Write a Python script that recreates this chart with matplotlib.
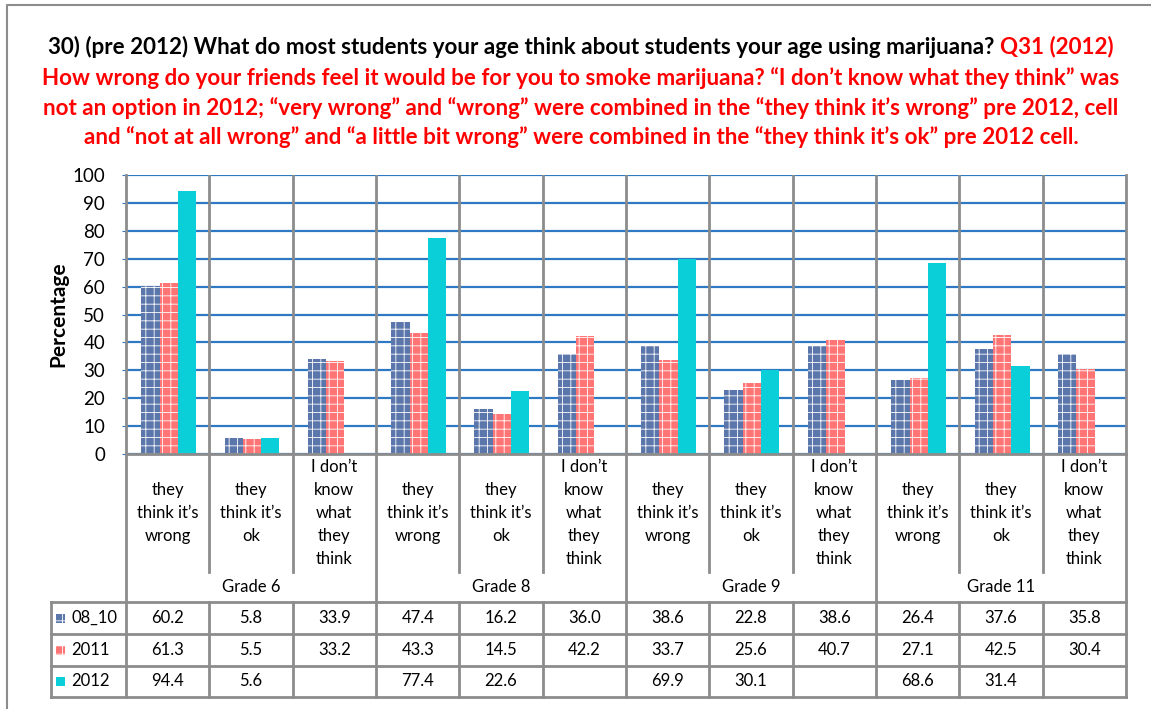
import matplotlib
matplotlib.use("Agg")
import matplotlib.pyplot as plt
from matplotlib.patches import Rectangle
from matplotlib.lines import Line2D
from matplotlib.transforms import blended_transform_factory

plt.rcParams['font.family'] = ['Lato', 'DejaVu Sans']
plt.rcParams['hatch.linewidth'] = 0.6

# data
grades = ["Grade 6", "Grade 8", "Grade 9", "Grade 11"]
responses = ["they\nthink it’s\nwrong", "they\nthink it’s\nok", "I don’t\nknow\nwhat\nthey\nthink"]
series_names = ["08_10", "2011", "2012"]
vals_08_10 = [60.2, 5.8, 33.9, 47.4, 16.2, 36.0, 38.6, 22.8, 38.6, 26.4, 37.6, 35.8]
vals_2011 = [61.3, 5.5, 33.2, 43.3, 14.5, 42.2, 33.7, 25.6, 40.7, 27.1, 42.5, 30.4]
vals_2012 = [94.4, 5.6, None, 77.4, 22.6, None, 69.9, 30.1, None, 68.6, 31.4, None]

series_vals = [vals_08_10, vals_2011, vals_2012]
face_colors = ["#5A76AA", "#FF7575", "#0ACFD8"]
hatches = ["++", "++", None]

W, H = 1151, 709
fig = plt.figure(figsize=(W / 100, H / 100), dpi=100)

def fy(y):
    return 1 - y / H

def fx(x):
    return x / W

GRAY = "#8C8C8C"
ax = fig.add_axes([fx(126), fy(454), fx(1126) - fx(126), fy(175) - fy(454)])
n = len(vals_08_10)
ax.set_xlim(0, n)
ax.set_ylim(0, 100)
ax.set_yticks(range(0, 101, 10))
ax.set_xticks([])
ax.tick_params(axis='y', length=3, color="#2F78C4", labelsize=13.5, pad=12)
ax.yaxis.grid(True, color="#2F78C4", linewidth=1.6, zorder=0)
ax.set_axisbelow(True)
ax.spines["top"].set_visible(False)
for s in ["left", "right", "bottom"]:
    ax.spines[s].set_color(GRAY)
    ax.spines[s].set_linewidth(2)
for i in range(1, n):
    ax.axvline(i, color=GRAY, linewidth=2, zorder=1)
ax.set_ylabel("Percentage", fontsize=15, fontweight="bold", labelpad=3)

bw = 0.22
for k, vals in enumerate(series_vals):
    xs = [i + 0.5 + (k - 1) * bw + 0.012 for i, v in enumerate(vals) if v is not None]
    ys = [v for v in vals if v is not None]
    ax.bar(xs, ys, width=bw, color=face_colors[k], edgecolor="white" if hatches[k] else face_colors[k],
           hatch=hatches[k], linewidth=0, zorder=2)

tr = blended_transform_factory(ax.transData, fig.transFigure)
fs = 12

# category labels
line_h = 23
for i in range(n):
    lines = responses[i % 3].split("\n")
    c = 513
    for j, t in enumerate(lines):
        y = c + (j - (len(lines) - 1) / 2) * line_h
        fig.text(i + 0.5, fy(y), t, transform=tr, ha="center", va="center", fontsize=fs)

for g, name in enumerate(grades):
    fig.text(g * 3 + 1.5, fy(587), name, transform=tr, ha="center", va="center", fontsize=fs)

def vline(x, y0, y1):
    fig.add_artist(Line2D([x, x], [fy(y0), fy(y1)], transform=tr, color=GRAY, linewidth=2))

for i in range(n + 1):
    if i % 3 == 0:
        vline(i, 454, 697)
    else:
        vline(i, 454, 572)
        vline(i, 602, 697)

# data table
rows_y = [602, 634, 666, 697]
for y in rows_y:
    fig.add_artist(Line2D([fx(51), fx(1126)], [fy(y), fy(y)], color=GRAY, linewidth=2))
fig.add_artist(Line2D([fx(51), fx(51)], [fy(602), fy(697)], color=GRAY, linewidth=2))

for k, vals in enumerate(series_vals):
    yc = (rows_y[k] + rows_y[k + 1]) / 2
    fig.add_artist(Rectangle((fx(56), fy(yc + 4.5)), fx(9), 9 / H, facecolor=face_colors[k],
                             edgecolor="white" if hatches[k] else face_colors[k],
                             hatch=hatches[k], linewidth=0))
    fig.text(fx(71), fy(yc), series_names[k], ha="left", va="center", fontsize=fs)
    for i, v in enumerate(vals):
        if v is not None:
            fig.text(i + 0.5, fy(yc), f"{v:.1f}", transform=tr, ha="center", va="center", fontsize=fs)

# outer frame
fig.add_artist(Line2D([fx(7), fx(7), fx(W)], [0, fy(5), fy(5)], color=GRAY, linewidth=1.5))

# title
title_fs = 16.1
t1 = fig.text(0, fy(47), "30) (pre 2012) What do most students your age think about students your age using marijuana? ",
              ha="left", va="center", fontsize=title_fs, fontweight="bold", color="black")
t1b = fig.text(0, fy(47), "Q31 (2012)", ha="left", va="center", fontsize=title_fs, fontweight="bold", color="red")
fig.canvas.draw()
r = fig.canvas.get_renderer()
w1 = t1.get_window_extent(r).width
w2 = t1b.get_window_extent(r).width
x0 = 581 - (w1 + w2) / 2
t1.set_x(fx(x0))
t1b.set_x(fx(x0 + w1))

red_lines = [
    "How wrong do your friends feel it would be for you to smoke marijuana? “I don’t know what they think” was",
    "not an option in 2012; “very wrong” and “wrong” were combined in the “they think it’s wrong” pre 2012, cell",
    "and “not at all wrong” and “a little bit wrong” were combined in the “they think it’s ok” pre 2012 cell.",
]
for j, t in enumerate(red_lines):
    fig.text(fx(581), fy(78 + 29.7 * j), t, ha="center", va="center", fontsize=title_fs,
             fontweight="bold", color="red")

fig.savefig("out.png", dpi=100)
